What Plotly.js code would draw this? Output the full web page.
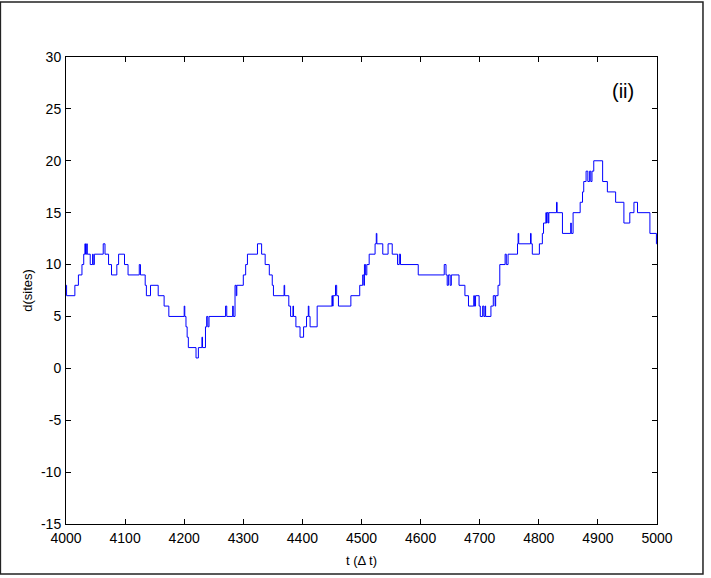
<!DOCTYPE html>
<html>
<head>
<meta charset="utf-8">
<script src="https://cdn.plot.ly/plotly-3.0.1.min.js"></script>
<style>html,body{margin:0;padding:0;background:#fff;}#chart{width:711px;height:578px;}</style>
</head>
<body>
<div id="chart"></div>
<script>
// change points: value d holds from time t until the next time
const timeSteps = [4000,4001,4015,4021,4027,4030,4032,4033,4035,4036,4041,4045,4046,4048,4063,4066,4072,4077,4086,4089,4099,4105,4124,4126,4134,4136,4143,4156,4166,4174,4200,4201,4203,4205,4207,4220,4224,4230,4231,4236,4238,4240,4242,4270,4272,4282,4283,4286,4288,4289,4300,4304,4307,4324,4331,4337,4344,4349,4351,4369,4370,4377,4380,4384,4385,4389,4396,4402,4407,4410,4411,4413,4425,4450,4451,4452,4456,4458,4461,4482,4497,4502,4504,4505,4507,4509,4513,4523,4525,4526,4536,4545,4552,4561,4564,4566,4596,4640,4643,4645,4647,4650,4652,4665,4675,4681,4690,4691,4693,4699,4701,4705,4707,4709,4710,4719,4723,4726,4727,4731,4734,4743,4745,4748,4764,4765,4766,4786,4787,4789,4801,4806,4808,4812,4813,4814,4816,4817,4830,4831,4840,4854,4855,4858,4870,4874,4876,4880,4883,4886,4888,4890,4893,4908,4916,4930,4944,4954,4961,4967,4988,4999,5000];
const distSites = [8,7,8,9,10,11,12,11,12,11,10,11,10,11,12,11,10,9,10,11,10,9,10,9,8,7,8,7,6,5,6,5,4,3,2,1,2,3,2,4,5,4,5,6,5,6,5,8,7,8,9,10,11,12,11,10,9,8,7,8,7,6,5,6,5,4,3,4,5,6,5,4,6,7,6,7,8,7,6,7,8,9,8,10,9,10,11,12,13,12,11,12,11,10,11,10,9,10,9,8,9,8,9,8,7,6,7,6,7,6,5,6,5,6,5,6,7,6,7,8,10,11,10,11,12,13,12,13,12,11,12,13,14,15,14,15,14,15,16,15,13,14,13,15,16,17,18,19,18,19,18,19,20,18,17,16,14,15,16,15,13,12,12];
const xTicks = [4000,4100,4200,4300,4400,4500,4600,4700,4800,4900,5000];
const yTicks = [-15,-10,-5,0,5,10,15,20,25,30];
const panelLabel = '(ii)';

const trace = {
  x: timeSteps, y: distSites, type: 'scatter', mode: 'lines',
  line: {color: '#0000ff', width: 1, shape: 'hv'}, hoverinfo: 'skip'
};
const fam = 'Liberation Sans, Arial, sans-serif';
const tickFnt = {family: fam, size: 14, color: '#000'};
const titleFnt = {family: fam, size: 13, color: '#000'};
const axisBase = {
  showgrid: false, zeroline: false, showline: true, linecolor: '#000', linewidth: 1,
  mirror: 'ticks', ticks: 'inside', ticklen: 5, tickcolor: '#000', tickwidth: 1,
  tickfont: tickFnt
};
const layout = {
  width: 711, height: 578,
  margin: {l: 66, r: 54, t: 57, b: 54},
  paper_bgcolor: '#fff', plot_bgcolor: '#fff',
  showlegend: false,
  font: titleFnt,
  xaxis: Object.assign({}, axisBase, {
    range: [4000, 5000], tickvals: xTicks, ticktext: xTicks.map(String),
    ticklabelstandoff: 1,
    title: {text: 't (\u0394 t)', font: titleFnt, standoff: 11}
  }),
  yaxis: Object.assign({}, axisBase, {
    range: [-15, 30], tickvals: yTicks, ticktext: yTicks.map(String),
    ticklabelstandoff: 1,
    title: {text: 'd(sites)', font: titleFnt, standoff: 5}
  }),
  annotations: [{
    xref: 'paper', yref: 'paper', x: 0.9425, y: 0.927, xanchor: 'center', yanchor: 'middle',
    text: panelLabel, showarrow: false, font: {family: fam, size: 20, color: '#000'}
  }],
  shapes: [{
    type: 'rect', xref: 'paper', yref: 'paper',
    x0: -0.111, x1: 1.0778, y0: -0.107, y1: 1.1178,
    line: {color: '#222', width: 1.5}
  }]
};
Plotly.newPlot('chart', [trace], layout, {displayModeBar: false, staticPlot: true});
</script>
</body>
</html>
